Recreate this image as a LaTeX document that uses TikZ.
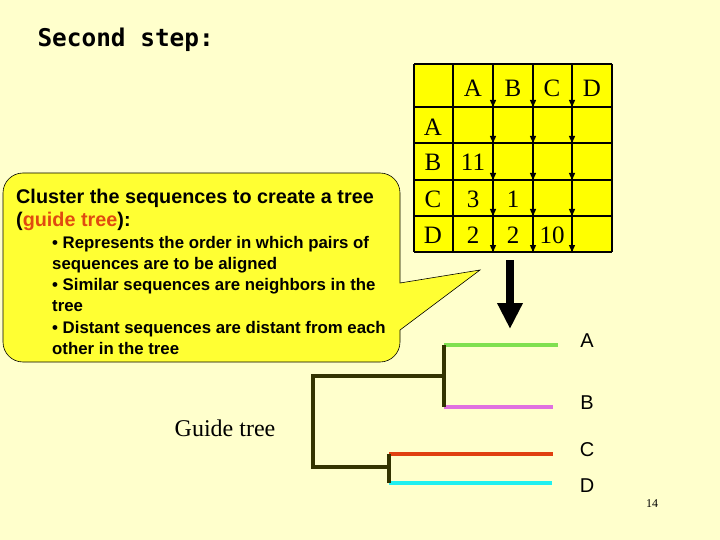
\documentclass[tikz,border=0pt]{standalone}
\usepackage{fontspec}
\setmainfont{Liberation Serif}
\newfontfamily\arialf{Liberation Sans}
\newfontfamily\monof{DejaVu Sans Mono}
\usetikzlibrary{arrows.meta}
\definecolor{bg}{HTML}{FFFFCC}
\definecolor{callout}{HTML}{FFFF33}
\definecolor{cellc}{HTML}{FFFF00}
\definecolor{treec}{HTML}{333300}
\definecolor{gtree}{HTML}{E04A10}
\tikzset{
  tline/.style={line width=4pt,treec},
  leaf/.style={line width=4pt},
  mtext/.style={font=\fontsize{25}{27}\selectfont, anchor=center},
  lab/.style={font=\arialf\fontsize{20}{22}\selectfont},
  varr/.style={line width=1.3pt,-{Triangle[length=7pt,width=6pt]}},
}
\begin{document}
\begin{tikzpicture}[x=1pt,y=-1pt]
\fill[bg] (0,0) rectangle (720,540);
\useasboundingbox (0,0) rectangle (720,540);
\node[anchor=west,font=\monof\bfseries\fontsize{24.4}{26}\selectfont] (title) at (34,40) {Second step:};
% callout
\draw[fill=callout,line width=0.6pt] (23,173) -- (380,173) to[out=0,in=90] (400,193) -- (400,283) -- (480,270) -- (400,330) -- (400,342) to[out=-90,in=0] (380,362) -- (23,362) to[out=180,in=-90] (3,342) -- (3,193) to[out=90,in=180] (23,173) -- cycle;
\node[anchor=north west,align=left,inner sep=0pt,font=\arialf\bfseries\fontsize{19.8}{23}\selectfont] (ct) at (16,189) {Cluster the sequences to create a tree\\(\textcolor{gtree}{guide tree}):};
\node[anchor=north west,align=left,inner sep=0pt,font=\arialf\bfseries\fontsize{16.8}{21.2}\selectfont] (cb) at (52,236) {\textbullet\ Represents the order in which pairs of\\sequences are to be aligned\\\textbullet\ Similar sequences are neighbors in the\\tree\\\textbullet\ Distant sequences are distant from each\\other in the tree};
% matrix
\fill[cellc] (414,64) rectangle (612,252);
\foreach \x in {414,453,493,533,572,612} \draw[line width=2.5pt] (\x,64) -- (\x,252);
\foreach \y in {64,107,143,180,216,252} \draw[line width=2.5pt] (414,\y) -- (612,\y);
\foreach \x in {493,533,572}{
  \draw[varr] (\x,64) -- (\x,107);
  \draw[varr] (\x,107) -- (\x,143);
  \draw[varr] (\x,143) -- (\x,180);
  \draw[varr] (\x,180) -- (\x,216);
  \draw[varr] (\x,216) -- (\x,252);
}
\node[mtext] (hA) at (473,88) {A};
\node[mtext] (hB) at (513,88) {B};
\node[mtext] (hC) at (552,88) {C};
\node[mtext] (hD) at (592,88) {D};
\node[mtext] (rA) at (433,127) {A};
\node[mtext] (rB) at (433,162) {B};
\node[mtext] (rC) at (433,199) {C};
\node[mtext] (rD) at (433,235) {D};
\node[mtext] (v1) at (473,162) {11};
\node[mtext] (v2) at (473,199) {3};
\node[mtext] (v3) at (513,199) {1};
\node[mtext] (v4) at (473,235) {2};
\node[mtext] (v5) at (513,235) {2};
\node[mtext] (v6) at (552,235) {10};
% big arrow
\coordinate (as) at (510,260);
\coordinate (ae) at (510,329);
\draw[line width=8pt,-{Triangle[length=26pt,width=24pt]}] (as) -- (ae);
% tree
\coordinate (pA) at (444,345); \coordinate (eA) at (558,345);
\coordinate (pB) at (444,407); \coordinate (eB) at (553,407);
\coordinate (pC) at (389,454); \coordinate (eC) at (553,454);
\coordinate (pD) at (389,483); \coordinate (eD) at (552,483);
\draw[leaf,color={rgb,255:red,128;green,224;blue,80}] (pA) -- (eA);
\draw[leaf,color={rgb,255:red,224;green,112;blue,224}] (pB) -- (eB);
\draw[leaf,color={rgb,255:red,224;green,64;blue,16}] (pC) -- (eC);
\draw[leaf,color={rgb,255:red,32;green,240;blue,240}] (pD) -- (eD);
\draw[tline] (pA) -- (pB);
\draw[tline] (pC) -- (pD);
\draw[tline] (444,376) -- (313,376) -- (313,467) -- (389,467);
\node[lab] (lA) at (587,341) {A};
\node[lab] (lB) at (587,403) {B};
\node[lab] (lC) at (587,450) {C};
\node[lab] (lD) at (587,486) {D};
\node[font=\fontsize{24}{26}\selectfont] (gt) at (225,428) {Guide tree};
\node[font=\fontsize{12}{14}\selectfont] (pn) at (652,504) {14};
\end{tikzpicture}
\end{document}
